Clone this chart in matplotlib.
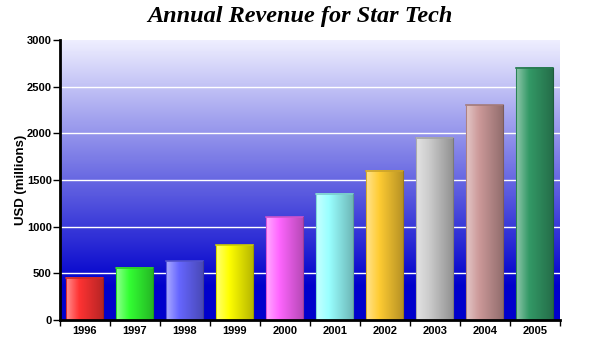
import numpy as np
import matplotlib
matplotlib.use("Agg")
import matplotlib.pyplot as plt
from matplotlib.colors import to_rgb

years = ["1996", "1997", "1998", "1999", "2000", "2001", "2002", "2003", "2004", "2005"]
revenue = [450, 560, 630, 800, 1100, 1350, 1600, 1950, 2300, 2700]
bar_colors = ["#ff3333", "#33ff33", "#6666ff", "#ffff00", "#ff66ff",
              "#99ffff", "#ffcc33", "#cccccc", "#cc9999", "#339966"]
yticks = [0, 500, 1000, 1500, 2000, 2500, 3000]

plt.rcParams["font.family"] = ["Liberation Sans", "DejaVu Sans"]

fig = plt.figure(figsize=(6, 3.6), dpi=100)
ax = fig.add_axes([0.1, 0.111, 0.8333, 0.7779])

ymax = 3000
n = len(years)
xlim = (-0.5, n - 0.5)

### Background gradient: light lavender on top, deep blue at bottom
t = np.linspace(0, 1, 256)[:, None]  # 0 bottom, 1 top
top = np.array([0.94, 0.94, 1.0])
bot = np.array([0.0, 0.0, 0.80])
w = np.clip((t - 0.12) / 0.88, 0, 1)
bg = bot + (top - bot) * w
bg = np.repeat(bg[:, None, :], 2, axis=1)
ax.imshow(bg, extent=(xlim[0], xlim[1], 0, ymax), origin="lower",
          aspect="auto", zorder=0)

for y in yticks[1:-1]:
    ax.axhline(y, color="white", lw=1.0, zorder=1)

### Cylinder-shaded bars
bw = 0.74
s = np.linspace(0, 1, 64)
for i, (v, c) in enumerate(zip(revenue, bar_colors)):
    base = np.array(to_rgb(c))
    light = base + (1 - base) * 0.45
    dark = base * 0.72
    cols = np.where(s[:, None] < 0.35,
                    light + (base - light) * (s[:, None] / 0.35),
                    base + (dark - base) * ((s[:, None] - 0.35) / 0.65))
    img = cols[None, :, :]
    ax.imshow(img, extent=(i - bw / 2, i + bw / 2, 0, v), aspect="auto",
              zorder=2, interpolation="bilinear")
    ax.plot([i - bw / 2, i + bw / 2], [v, v], color=base * 0.8, lw=1.2, zorder=3)
    ax.plot([i - bw / 2, i - bw / 2], [0, v], color=base * 0.85, lw=0.8, zorder=3)
    ax.plot([i + bw / 2, i + bw / 2], [0, v], color=base * 0.6, lw=0.8, zorder=3)

ax.set_xlim(xlim)
ax.set_ylim(0, ymax)

ax.set_yticks(yticks)
ax.set_yticklabels([str(y) for y in yticks], fontsize=8, fontweight="bold")
ax.set_xticks(range(n))
ax.set_xticklabels(years, fontsize=8, fontweight="bold")
ax.set_xticks(np.arange(-0.5, n, 1.0), minor=True)
ax.tick_params(axis="x", which="major", length=0, pad=4)
ax.tick_params(axis="x", which="minor", length=4, width=1, direction="out")
ax.tick_params(axis="y", length=5, width=1, direction="out", pad=1)

for side in ["top", "right"]:
    ax.spines[side].set_visible(False)
for side in ["left", "bottom"]:
    ax.spines[side].set_linewidth(2)
    ax.spines[side].set_zorder(5)

ax.set_ylabel("USD (millions)", fontsize=9.5, fontweight="bold", labelpad=0)

fig.text(0.5, 0.955, "Annual Revenue for Star Tech", ha="center", va="center",
         fontsize=17.5, fontweight="bold", style="italic",
         family=["Liberation Serif", "DejaVu Serif"])

fig.savefig("out.png", dpi=100)
